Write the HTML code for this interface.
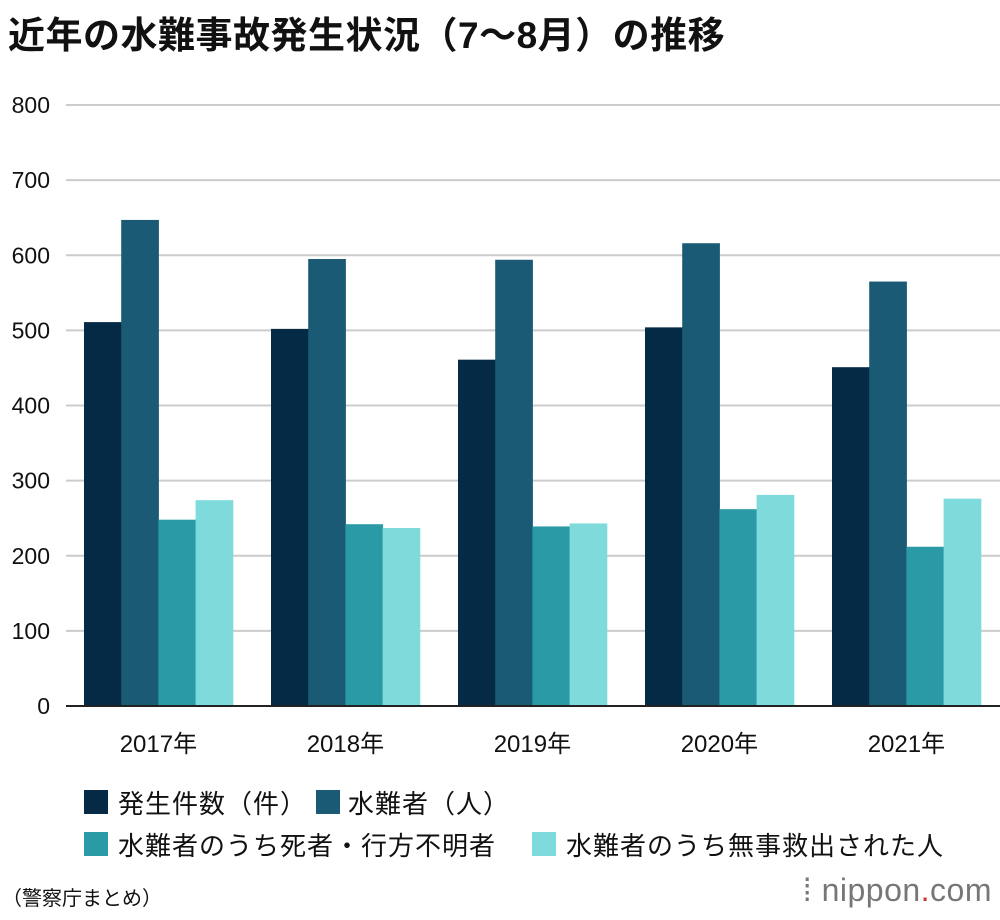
<!DOCTYPE html>
<html><head><meta charset="utf-8">
<style>
body{margin:0;background:#fff;width:1000px;height:920px;overflow:hidden;font-family:"Liberation Sans","Noto Sans CJK JP",sans-serif;}
#title{position:absolute;left:8px;top:5px;font-size:37px;font-weight:bold;color:#111;letter-spacing:0.5px;}
.leg{position:absolute;font-size:26px;color:#111;letter-spacing:1px;}
.sw{position:absolute;width:24px;height:24px;}
#src{position:absolute;left:2px;top:882px;font-size:20px;color:#111;}
#logo{position:absolute;right:8px;top:872px;font-size:32px;color:#777;letter-spacing:0.5px;}
</style></head><body>
<div id="title">近年の水難事故発生状況（7〜8月）の推移</div>
<svg id="chart" width="1000" height="920" style="position:absolute;left:0;top:0"></svg>
<div class="sw" style="left:84px;top:790px;background:#052a45"></div>
<div class="leg" style="left:118px;top:784px">発生件数（件）</div>
<div class="sw" style="left:316px;top:790px;background:#1b5a75"></div>
<div class="leg" style="left:348px;top:784px">水難者（人）</div>
<div class="sw" style="left:84px;top:832px;background:#2a9ba6"></div>
<div class="leg" style="left:118px;top:826px">水難者のうち死者・行方不明者</div>
<div class="sw" style="left:532px;top:832px;background:#7fdbdb"></div>
<div class="leg" style="left:566px;top:826px">水難者のうち無事救出された人</div>
<div id="src">（警察庁まとめ）</div>
<div id="logo">⁞ nippon<span style="color:#c33">.</span>com</div>
<script>
const categories=["2017年","2018年","2019年","2020年","2021年"];
const incidents=[511,502,461,504,451];
const victims=[647,595,594,616,565];
const deadMissing=[248,242,239,262,212];
const rescued=[274,237,243,281,276];
const yTicks=[0,100,200,300,400,500,600,700,800];
const series=[incidents,victims,deadMissing,rescued];
const colors=["#052a45","#1b5a75","#2a9ba6","#7fdbdb"];
const names=["incidents","victims","dead-missing","rescued"];
const svg=document.getElementById('chart');
const NS="http://www.w3.org/2000/svg";
const x0=66,band=187,pad=18,y0=706,yTop=105,yMax=800,bw=37.2;
function y(v){return y0-(v/yMax)*(y0-yTop);}
function mk(t,a){const e=document.createElementNS(NS,t);for(const k in a)e.setAttribute(k,a[k]);svg.appendChild(e);return e;}
yTicks.forEach(t=>{
 const l=mk('line',{x1:x0,x2:1000,y1:y(t),y2:y(t),stroke:t===0?'#222':'#ccc','stroke-width':2});
 
 
 const tx=mk('text',{x:50,y:y(t)+8,'text-anchor':'end','font-size':23,fill:'#111'});
 tx.textContent=t;
 
 
});
categories.forEach((c,i)=>{
 series.forEach((s,j)=>{
  const r=mk('rect',{x:x0+i*band+pad+j*bw,y:y(s[i]),width:bw+0.5,height:y0-y(s[i]),fill:colors[j]});
  
  
 });
 const tx=mk('text',{x:x0+i*band+pad+2*bw,y:752,'text-anchor':'middle','font-size':24,fill:'#111','font-family':'"Liberation Sans","Noto Sans CJK JP",sans-serif'});
 tx.textContent=c;
 
 
});
mk('line',{x1:x0,x2:1000,y1:y0,y2:y0,stroke:'#222','stroke-width':2});
</script>
</body></html>
